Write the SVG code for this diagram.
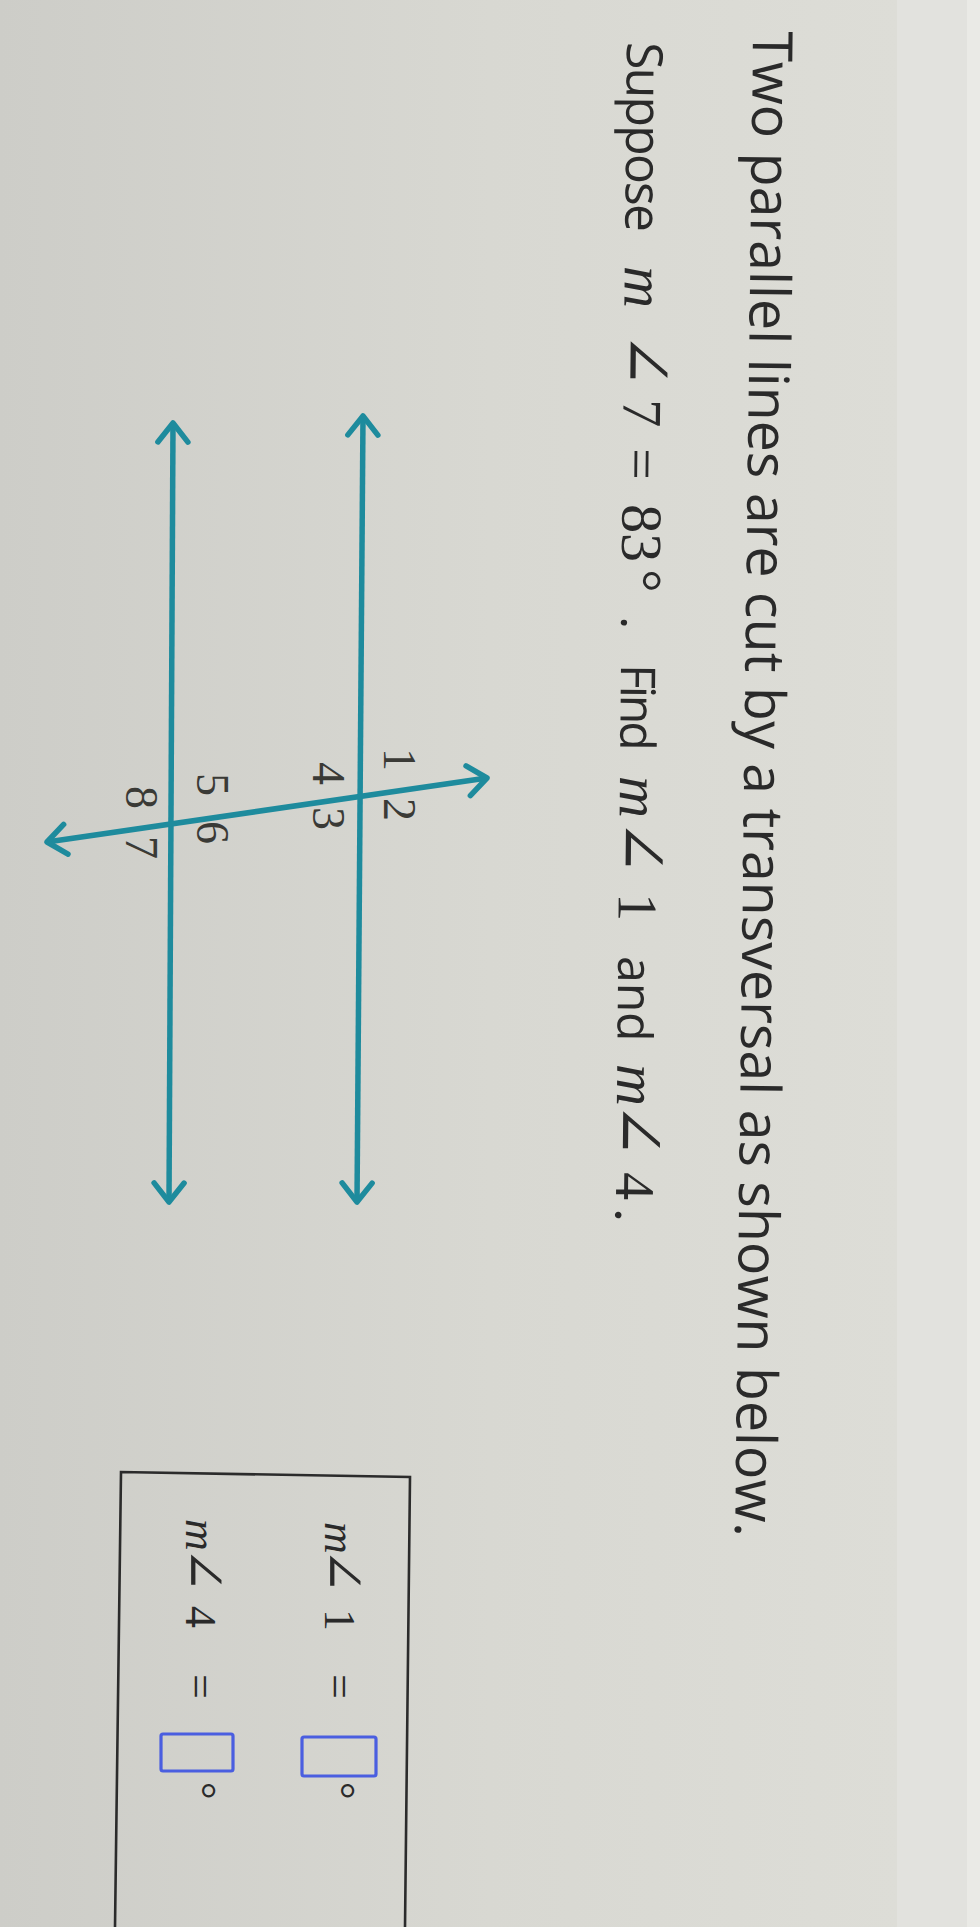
<svg xmlns="http://www.w3.org/2000/svg" width="980" height="1927" viewBox="0 0 980 1927">
<style>
.sans{font-family:"Open Sans","Noto Sans","DejaVu Sans",sans-serif;fill:#2a2a2a}
.mi{font-family:"Liberation Serif","DejaVu Serif",serif;font-style:italic;fill:#2a2a2a}
.ms{font-family:"Liberation Serif","DejaVu Serif",serif;fill:#2a2a2a}
.ang{font-family:"DejaVu Serif","Liberation Serif",serif;fill:#2a2a2a}
.lbl{font-family:"Liberation Serif","DejaVu Serif",serif;font-size:46px;fill:#3a3a36}
.ln{stroke:#1e8b9d;stroke-width:5.5;fill:none;marker-start:url(#chev);marker-end:url(#chev)}
.inp{fill:none;stroke:#4a5ee0;stroke-width:3.2}
</style>
<defs>
<linearGradient id="bg" x1="0" y1="0" x2="1" y2="0">
<stop offset="0" stop-color="#cdcdc8"/>
<stop offset="0.5" stop-color="#d8d8d2"/>
<stop offset="1" stop-color="#dedeD8"/>
</linearGradient>
<marker id="chev" viewBox="-26 -20 30 40" refX="0" refY="0" markerWidth="30" markerHeight="40" markerUnits="userSpaceOnUse" orient="auto-start-reverse">
<path d="M-19,-15 L0,0 L-19,15" fill="none" stroke="#1e8b9d" stroke-width="5.5" stroke-linecap="round" stroke-linejoin="round"/>
</marker>
</defs>
<rect width="980" height="1927" fill="url(#bg)"/>
<rect x="897" y="0" width="70" height="1927" fill="#e2e2de"/>
<rect x="967" y="0" width="13" height="1927" fill="#eaeae6"/>

<g id="question-line1">
<text class="sans" transform="translate(753,31) rotate(90.68)" font-size="55.5" textLength="1506" lengthAdjust="spacing">Two parallel lines are cut by a transversal as shown below.</text>
</g>

<g id="question-line2">
<text transform="translate(627,42) rotate(90.55)"><tspan class="sans" x="0" font-size="50" textLength="201">Suppose </tspan><tspan class="mi" x="224" font-size="58">m</tspan><tspan class="ang" x="290" font-size="66">∠</tspan><tspan class="ms" x="357" font-size="56">7 </tspan><tspan class="ms" x="406" font-size="56">= </tspan><tspan class="ms" x="462" font-size="58">83</tspan><tspan class="ms" x="527" font-size="58">°</tspan><tspan class="sans" x="574" font-size="50">. </tspan><tspan class="sans" x="622" font-size="48" textLength="96">Find </tspan><tspan class="mi" x="734" font-size="58">m</tspan><tspan class="ang" x="777" font-size="66">∠</tspan><tspan class="ms" x="851" font-size="56">1 </tspan><tspan class="sans" x="914" font-size="48">and </tspan><tspan class="mi" x="1022" font-size="58">m</tspan><tspan class="ang" x="1060" font-size="66">∠</tspan><tspan class="ms" x="1130" font-size="56">4</tspan><tspan class="ms" x="1166" font-size="56">.</tspan></text>
</g>

<g id="connectors">
<line id="line-upper" class="ln" x1="363" y1="416" x2="357" y2="1202"/>
<line id="line-lower" class="ln" x1="173" y1="423" x2="169" y2="1202"/>
<line id="transversal" class="ln" x1="47" y1="842" x2="487" y2="778"/>
</g>

<g id="angle-labels">
<text class="lbl" transform="translate(384,748) rotate(90)">1</text>
<text class="lbl" transform="translate(384,798) rotate(90)">2</text>
<text class="lbl" transform="translate(313,762) rotate(90)">4</text>
<text class="lbl" transform="translate(313,807) rotate(90)">3</text>
<text class="lbl" transform="translate(197,773) rotate(90)">5</text>
<text class="lbl" transform="translate(197,821) rotate(90)">6</text>
<text class="lbl" transform="translate(126,786) rotate(90)">8</text>
<text class="lbl" transform="translate(126,836) rotate(90)">7</text>
</g>

<g id="answer-box">
<path d="M115,1927 L121,1472 L410,1477 L405,1927" fill="none" stroke="#2b2b2b" stroke-width="2.6"/>
<g id="answer-1">
<text transform="translate(325,0) rotate(90)"><tspan class="mi" x="1522" font-size="44">m</tspan><tspan class="ang" x="1548" font-size="54">∠</tspan><tspan class="ms" x="1609" font-size="44">1 </tspan><tspan class="ms" x="1674" font-size="44">= </tspan><tspan class="ms" x="1782" font-size="44">°</tspan></text>
<rect class="inp" x="302" y="1737" width="74" height="39" rx="2"/>
</g>
<g id="answer-4">
<text transform="translate(186,0) rotate(90)"><tspan class="mi" x="1519" font-size="44">m</tspan><tspan class="ang" x="1547" font-size="54">∠</tspan><tspan class="ms" x="1606" font-size="44">4 </tspan><tspan class="ms" x="1674" font-size="44">= </tspan><tspan class="ms" x="1782" font-size="44">°</tspan></text>
<rect class="inp" x="161" y="1734" width="72" height="37" rx="2"/>
</g>
</g>
</svg>
